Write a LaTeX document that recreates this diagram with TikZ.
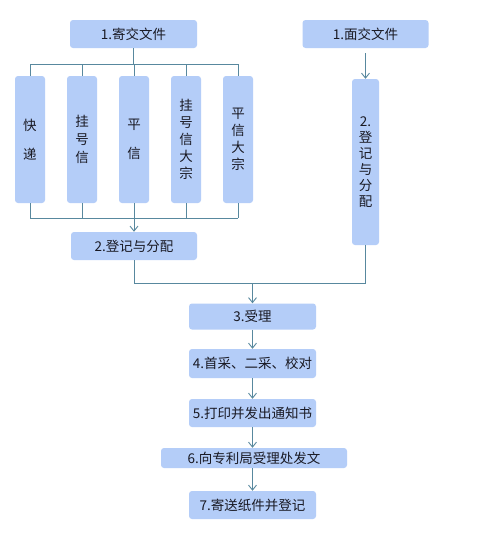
\documentclass[tikz,border=0pt]{standalone}
\usepackage{fontspec}
\newfontfamily\cjk{Noto Sans CJK SC}
\usetikzlibrary{arrows.meta}
\definecolor{boxfill}{RGB}{180,205,248}
\definecolor{linec}{RGB}{88,136,158}
\definecolor{txt}{RGB}{25,25,35}
\tikzset{
  box/.style={fill=boxfill, rounded corners=3pt, inner sep=0pt, text=txt,
    font=\cjk\fontsize{13.5}{15}\selectfont, align=center},
  vbox/.style={box, font=\cjk\fontsize{13.5}{18}\selectfont},
  conn/.style={draw=linec, line width=0.9pt},
  arr/.style={conn, -{Straight Barb[length=5pt,width=8pt,line width=0.9pt]}}
}
\begin{document}
\begin{tikzpicture}[x=1pt,y=-1pt]
\useasboundingbox[fill=white] (0,0) rectangle (499,538);
% top row
\node[box, minimum width=127pt, minimum height=28pt] (b1) at (133.5,34) {1.寄交文件};
\node[box, minimum width=126pt, minimum height=28pt] (f1) at (365.5,34) {1.面交文件};
% five vertical boxes
\node[vbox, minimum width=30pt, minimum height=127pt] (k) at (30,139.5) {快\\[11pt]递};
\node[vbox, minimum width=30pt, minimum height=127pt] (g) at (82,139.5) {挂\\号\\信};
\node[vbox, minimum width=30pt, minimum height=127pt] (p) at (134,139.5) {平\\[11pt]信};
\node[vbox, minimum width=30pt, minimum height=127pt, font=\cjk\fontsize{13.5}{17}\selectfont] (gd) at (186,139.5) {挂\\号\\信\\大\\宗};
\node[vbox, minimum width=30pt, minimum height=127pt, font=\cjk\fontsize{13.5}{17}\selectfont] (pd) at (238,139.5) {平\\信\\大\\宗};
% register boxes
\node[box, minimum width=126pt, minimum height=28pt] (r2) at (134,246) {2.登记与分配};
\node[vbox, minimum width=27pt, minimum height=166pt, font=\cjk\fontsize{13.5}{16}\selectfont] (r2b) at (365.5,162) {2.\\登\\记\\与\\分\\配};
% steps
\node[box, minimum width=127pt, minimum height=26pt] (s3) at (252.5,316.5) {3.受理};
\node[box, minimum width=127pt, minimum height=29pt] (s4) at (252.5,363.5) {4.首采、二采、校对};
\node[box, minimum width=127pt, minimum height=28pt] (s5) at (252.5,413) {5.打印并发出通知书};
\node[box, minimum width=186pt, minimum height=20pt] (s6) at (254,458) {6.向专利局受理处发文};
\node[box, minimum width=127pt, minimum height=28pt] (s7) at (252.5,505) {7.寄送纸件并登记};
% bus coordinates
\coordinate (topbus) at (0,64);
\coordinate (botbus) at (0,218);
\coordinate (mid) at (0,283);
% top bus
\draw[conn] (b1.south) -- (b1.south |- topbus);
\draw[conn] (k.north |- topbus) -- (pd.north |- topbus);
\foreach \n in {k,g,p,gd,pd} \draw[conn] (\n.north) -- (\n.north |- topbus);
% bottom bus
\draw[conn] (k.south |- botbus) -- (pd.south |- botbus);
\foreach \n in {k,g,p,gd,pd} \draw[conn] (\n.south) -- (\n.south |- botbus);
\draw[arr] (p.south |- botbus) -- (r2.north);
% right column
\draw[arr] ([yshift=-5pt]f1.south) -- (r2b.north);
% merge
\draw[conn] (r2.south) -- (r2.south |- mid) -- (r2b.south |- mid) -- (r2b.south);
\draw[arr] (s3.north |- mid) -- (s3.north);
\draw[arr] (s3.south) -- (s4.north);
\draw[arr] (s4.south) -- (s5.north);
\draw[arr] (s5.south) -- (s5.south |- s6.north);
\draw[arr] (s6.south -| s7.north) -- (s7.north);
\end{tikzpicture}
\end{document}
